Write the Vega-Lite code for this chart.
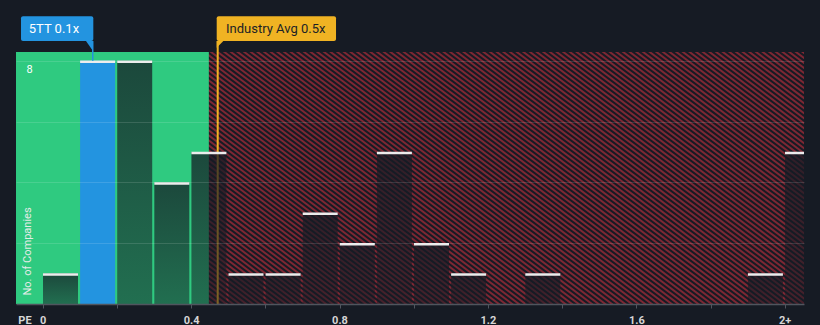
{
  "$schema": "https://vega.github.io/schema/vega-lite/v6.json",
  "width": 788,
  "height": 252,
  "autosize": {"type": "none"},
  "padding": {"left": 16, "top": 52, "right": 16, "bottom": 21},
  "background": "#161b24",
  "config": {"font": "Roboto", "view": {"stroke": null}},
  "data": {
    "values": [
      {"start": 0.0, "end": 0.1, "count": 1, "group": "Other"},
      {"start": 0.1, "end": 0.2, "count": 8, "group": "5TT"},
      {"start": 0.2, "end": 0.3, "count": 8, "group": "Other"},
      {"start": 0.3, "end": 0.4, "count": 4, "group": "Other"},
      {"start": 0.4, "end": 0.5, "count": 5, "group": "Other"},
      {"start": 0.5, "end": 0.6, "count": 1, "group": "Other"},
      {"start": 0.6, "end": 0.7, "count": 1, "group": "Other"},
      {"start": 0.7, "end": 0.8, "count": 3, "group": "Other"},
      {"start": 0.8, "end": 0.9, "count": 2, "group": "Other"},
      {"start": 0.9, "end": 1.0, "count": 5, "group": "Other"},
      {"start": 1.0, "end": 1.1, "count": 2, "group": "Other"},
      {"start": 1.1, "end": 1.2, "count": 1, "group": "Other"},
      {"start": 1.3, "end": 1.4, "count": 1, "group": "Other"},
      {"start": 1.9, "end": 2.0, "count": 1, "group": "Other"},
      {"start": 2.0, "end": 2.1, "count": 5, "group": "Other"}
    ]
  },
  "layer": [
    {
      "data": {"values": [{}]},
      "mark": {"type": "rule", "clip": true, "strokeWidth": 820, "strokeDash": [2, 2], "strokeCap": "butt", "color": "#7d2733"},
      "encoding": {
        "x": {
          "datum": 0.4059,
          "type": "quantitative",
          "scale": {"domain": [-0.072, 2.052], "nice": false, "zero": false},
          "axis": {
            "title": "PE",
            "titleX": 8.5,
            "titleY": 10,
            "titleAlign": "center",
            "titleBaseline": "top",
            "titleFontSize": 11,
            "titleFontWeight": "bold",
            "titleColor": "#d6d6d6",
            "values": [0, 0.1, 0.2, 0.3, 0.4, 0.5, 0.6, 0.7, 0.8, 0.9, 1.0, 1.1, 1.2, 1.3, 1.4, 1.5, 1.6, 1.7, 1.8, 1.9, 2.0],
            "labelExpr": "datum.value == 2 ? '2+' : ((datum.value == 0 || datum.value == 0.4 || datum.value == 0.8 || datum.value == 1.2 || datum.value == 1.6) ? format(datum.value, '~g') : '')",
            "labelFontSize": 11,
            "labelFontWeight": "bold",
            "labelColor": "#d6d6d6",
            "labelPadding": 6,
            "labelOverlap": false,
            "labelFlush": false,
            "grid": false,
            "domainColor": "#50555e",
            "domainWidth": 1.5,
            "tickColor": "#50555e",
            "tickSize": 4,
            "tickWidth": 1,
            "zindex": 1
          }
        },
        "y": {
          "datum": -5.316,
          "type": "quantitative",
          "scale": {"domain": [0, 8.29], "nice": false, "zero": false},
          "axis": {
            "title": "No. of Companies",
            "titleX": 11,
            "titleY": 243,
            "titleAngle": -90,
            "titleAlign": "left",
            "titleBaseline": "middle",
            "titleFontSize": 11,
            "titleFontWeight": "normal",
            "titleColor": "#e4ece8",
            "values": [2, 4, 6, 8],
            "labelExpr": "datum.value == 8 ? '8' : ''",
            "labelAlign": "left",
            "labelBaseline": "top",
            "labelPadding": -10,
            "labelOffset": 3,
            "labelFontSize": 11,
            "labelColor": "#ffffff",
            "ticks": false,
            "tickSize": 0,
            "domain": false,
            "grid": true,
            "gridColor": "#ffffff",
            "gridOpacity": 0.13,
            "gridWidth": 1,
            "zindex": 1
          }
        },
        "x2": {"datum": 1.5741},
        "y2": {"datum": 13.605}
      }
    },
    {
      "data": {"values": [{}]},
      "mark": {"type": "rect", "color": "#2fca80", "clip": true},
      "encoding": {
        "x": {"datum": -0.072, "type": "quantitative"},
        "x2": {"datum": 0.4478},
        "y": {"datum": 0, "type": "quantitative"},
        "y2": {"datum": 8.29}
      }
    },
    {
      "data": {"values": [{}]},
      "mark": {"type": "rule", "color": "#f0b323", "strokeWidth": 2},
      "encoding": {
        "x": {"datum": 0.4717, "type": "quantitative"},
        "y": {"datum": 0, "type": "quantitative"},
        "y2": {"datum": 8.65}
      }
    },
    {
      "transform": [{"filter": "datum.group != '5TT'"}],
      "mark": {
        "type": "rect",
        "clip": true,
        "xOffset": 0.3,
        "x2Offset": -1.8,
        "fill": {
          "gradient": "linear",
          "x1": 0, "y1": 0, "x2": 0, "y2": 1,
          "stops": [
            {"offset": 0, "color": "rgba(21,27,36,0.74)"},
            {"offset": 1, "color": "rgba(21,27,36,0.52)"}
          ]
        }
      },
      "encoding": {
        "x": {"field": "start", "type": "quantitative"},
        "x2": {"field": "end"},
        "y": {"field": "count", "type": "quantitative"},
        "y2": {"datum": 0}
      }
    },
    {
      "transform": [{"filter": "datum.group == '5TT'"}],
      "mark": {"type": "rect", "clip": true, "xOffset": 0.3, "x2Offset": -1.8, "fill": "#2394e0"},
      "encoding": {
        "x": {"field": "start", "type": "quantitative"},
        "x2": {"field": "end"},
        "y": {"field": "count", "type": "quantitative"},
        "y2": {"datum": 0}
      }
    },
    {
      "mark": {"type": "rule", "clip": true, "xOffset": 0.3, "x2Offset": -1.8, "yOffset": 1, "strokeWidth": 2.5, "color": "#ececec"},
      "encoding": {
        "x": {"field": "start", "type": "quantitative"},
        "x2": {"field": "end"},
        "y": {"field": "count", "type": "quantitative"}
      }
    },
    {
      "data": {"values": [{}]},
      "mark": {"type": "rule", "color": "#2394e0", "strokeWidth": 1.5},
      "encoding": {
        "x": {"datum": 0.1348, "type": "quantitative"},
        "y": {"datum": 8.0, "type": "quantitative"},
        "y2": {"datum": 8.65}
      }
    },
    {
      "data": {"values": [{}]},
      "mark": {"type": "rect", "color": "#2394e0", "cornerRadius": 2},
      "encoding": {
        "x": {"datum": -0.0585, "type": "quantitative"},
        "x2": {"datum": 0.1364},
        "y": {"datum": 8.65, "type": "quantitative"},
        "y2": {"datum": 9.47}
      }
    },
    {
      "data": {"values": [{}]},
      "mark": {"type": "point", "filled": true, "opacity": 1, "color": "#2394e0", "shape": "M-0.7,-1L0.7,-1L0.7,1Z", "size": 100},
      "encoding": {
        "x": {"datum": 0.1261, "type": "quantitative"},
        "y": {"datum": 8.487, "type": "quantitative"}
      }
    },
    {
      "data": {"values": [{}]},
      "mark": {"type": "text", "text": "5TT 0.1x", "align": "left", "baseline": "middle", "fontSize": 13, "color": "#ffffff"},
      "encoding": {
        "x": {"datum": -0.0377, "type": "quantitative"},
        "y": {"datum": 9.06, "type": "quantitative"}
      }
    },
    {
      "data": {"values": [{}]},
      "mark": {"type": "rect", "color": "#f0b323", "cornerRadius": 2},
      "encoding": {
        "x": {"datum": 0.469, "type": "quantitative"},
        "x2": {"datum": 0.7906},
        "y": {"datum": 8.65, "type": "quantitative"},
        "y2": {"datum": 9.47}
      }
    },
    {
      "data": {"values": [{}]},
      "mark": {"type": "point", "filled": true, "opacity": 1, "color": "#f0b323", "shape": "M-1,-1L1,-1L-1,1Z", "size": 44},
      "encoding": {
        "x": {"datum": 0.4779, "type": "quantitative"},
        "y": {"datum": 8.543, "type": "quantitative"}
      }
    },
    {
      "data": {"values": [{}]},
      "mark": {"type": "text", "text": "Industry Avg 0.5x", "align": "left", "baseline": "middle", "fontSize": 13, "color": "#1c1f26"},
      "encoding": {
        "x": {"datum": 0.494, "type": "quantitative"},
        "y": {"datum": 9.06, "type": "quantitative"}
      }
    }
  ]
}
